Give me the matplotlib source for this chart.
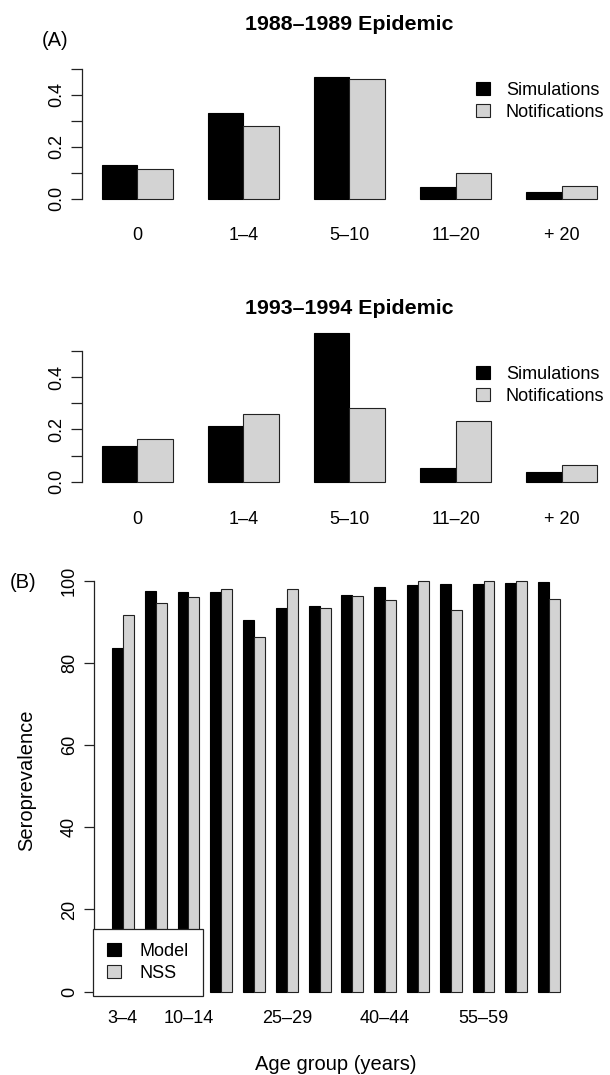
import numpy as np
import matplotlib
matplotlib.use("Agg")
import matplotlib.pyplot as plt
from matplotlib.patches import Patch

plt.rcParams['font.family'] = ['Liberation Sans', 'DejaVu Sans']

# panel A: proportion of cases by age group
age_groups_a = ['0', '1–4', '5–10', '11–20', '+ 20']
sim_8889 = [0.130, 0.331, 0.470, 0.046, 0.026]
not_8889 = [0.113, 0.281, 0.461, 0.098, 0.048]
sim_9394 = [0.135, 0.212, 0.570, 0.052, 0.036]
not_9394 = [0.165, 0.259, 0.281, 0.233, 0.063]
yticks_a = [0.0, 0.1, 0.2, 0.3, 0.4, 0.5]
ylabels_a = ['0.0', '', '0.2', '', '0.4', '']

# panel B: seroprevalence by age group
age_groups_b = ['3–4', '5–9', '10–14', '15–19', '20–24', '25–29', '30–34',
                '35–39', '40–44', '45–49', '50–54', '55–59', '60–64', '65+']
shown_b = [0, 2, 5, 8, 11]   # labels R had room to print
model = [83.7, 97.6, 97.2, 97.3, 90.4, 93.4, 93.8, 96.5, 98.4, 98.9, 99.2, 99.3, 99.5, 99.6]
nss = [91.6, 94.7, 96.1, 98.0, 86.2, 98.0, 93.4, 96.4, 95.3, 100.0, 93.0, 100.0, 100.0, 95.5]
yticks_b = [0, 20, 40, 60, 80, 100]

W, H = 610, 1075
fig = plt.figure(figsize=(W / 100, H / 100), dpi=100)
GREY = '#d3d3d3'
FS = 13


def px_axes(left, top, right, bottom):
    return fig.add_axes([left / W, 1 - bottom / H, (right - left) / W, (bottom - top) / H])


def ftext(x, y, s, **kw):
    fig.text(x / W, 1 - y / H, s, ha='center', va='center', **kw)


def r_style(ax, top_tick, ticks, labels, tick_len, xpad):
    for s in ['top', 'right', 'bottom']:
        ax.spines[s].set_visible(False)
    ax.spines['left'].set_bounds(0, top_tick)
    ax.spines['left'].set_linewidth(0.9)
    ax.spines['left'].set_color('#222222')
    ax.set_yticks(ticks)
    ax.set_yticklabels(labels, rotation=90, va='center')
    ax.tick_params(axis='y', direction='out', length=tick_len, width=0.9,
                   color='#222222', labelsize=FS, pad=4)
    ax.tick_params(axis='x', length=0, labelsize=FS, pad=xpad)


def barpanel(ax, sim, notif, title, title_y, leg_top):
    n = len(sim)
    left = 1 + 3 * np.arange(n)
    ax.bar(left, sim, width=1, align='edge', color='black', edgecolor='black',
           linewidth=0.8, clip_on=False)
    ax.bar(left + 1, notif, width=1, align='edge', color=GREY, edgecolor='#222222',
           linewidth=0.8, clip_on=False)
    ax.set_xlim(0.44, 15.56)
    ax.set_ylim(-0.02, 0.52)
    r_style(ax, 0.5, yticks_a, ylabels_a, 8, 17)
    ax.set_xticks(left + 1)
    ax.set_xticklabels(age_groups_a)
    ax.legend(handles=[Patch(facecolor='black', edgecolor='black', linewidth=0.8),
                       Patch(facecolor=GREY, edgecolor='#222222', linewidth=0.8)],
              labels=['Simulations', 'Notifications'], loc='upper left',
              bbox_to_anchor=(476 / W, 1 - leg_top / H), bbox_transform=fig.transFigure,
              frameon=False, fontsize=FS, handlelength=0.75, handleheight=0.75,
              handletextpad=0.9, labelspacing=0.25, borderpad=0, borderaxespad=0)
    ftext(349, title_y, title, fontsize=15.4, fontweight='bold')


ax1 = px_axes(82.2, 63.8, 616.8, 203.7)
ax2 = px_axes(82.2, 345.8, 616.8, 486.9)
barpanel(ax1, sim_8889, not_8889, '1988–1989 Epidemic', 25, 82)
barpanel(ax2, sim_9394, not_9394, '1993–1994 Epidemic', 308, 366)
ftext(55, 40, '(A)', fontsize=14.5)

# panel B
ax3 = px_axes(94, 564.3, 578, 996)
nb = len(model)
left_b = 1 + 3 * np.arange(nb)
ax3.bar(left_b, model, width=1, align='edge', color='black', edgecolor='black',
        linewidth=0.8, clip_on=False)
ax3.bar(left_b + 1, nss, width=1, align='edge', color=GREY, edgecolor='#222222',
        linewidth=0.8, clip_on=False)
ax3.set_xlim(-0.64, 43.64)
ax3.set_ylim(-1.05, 104)
r_style(ax3, 100, yticks_b, [str(t) for t in yticks_b], 7.5, 10)
ax3.set_xticks(left_b[shown_b] + 1)
ax3.set_xticklabels([age_groups_b[i] for i in shown_b])
leg = ax3.legend(handles=[Patch(facecolor='black', edgecolor='black', linewidth=0.8),
                          Patch(facecolor=GREY, edgecolor='#222222', linewidth=0.8)],
                 labels=['Model', 'NSS'], loc='lower left',
                 bbox_to_anchor=(93 / W, 1 - 996 / H), bbox_transform=fig.transFigure,
                 frameon=True, fancybox=False, framealpha=1, fontsize=FS,
                 handlelength=0.75, handleheight=0.75, handletextpad=1.0,
                 labelspacing=0.25, borderpad=0.8, borderaxespad=0)
leg.set_zorder(10)
leg.get_frame().set_edgecolor('#222222')
leg.get_frame().set_linewidth(0.9)
ftext(23, 583, '(B)', fontsize=14.5)
ftext(27, 780, 'Seroprevalence', fontsize=14.5, rotation=90)
ftext(336, 1064, 'Age group (years)', fontsize=14.5)

fig.savefig('out.png', dpi=100)
